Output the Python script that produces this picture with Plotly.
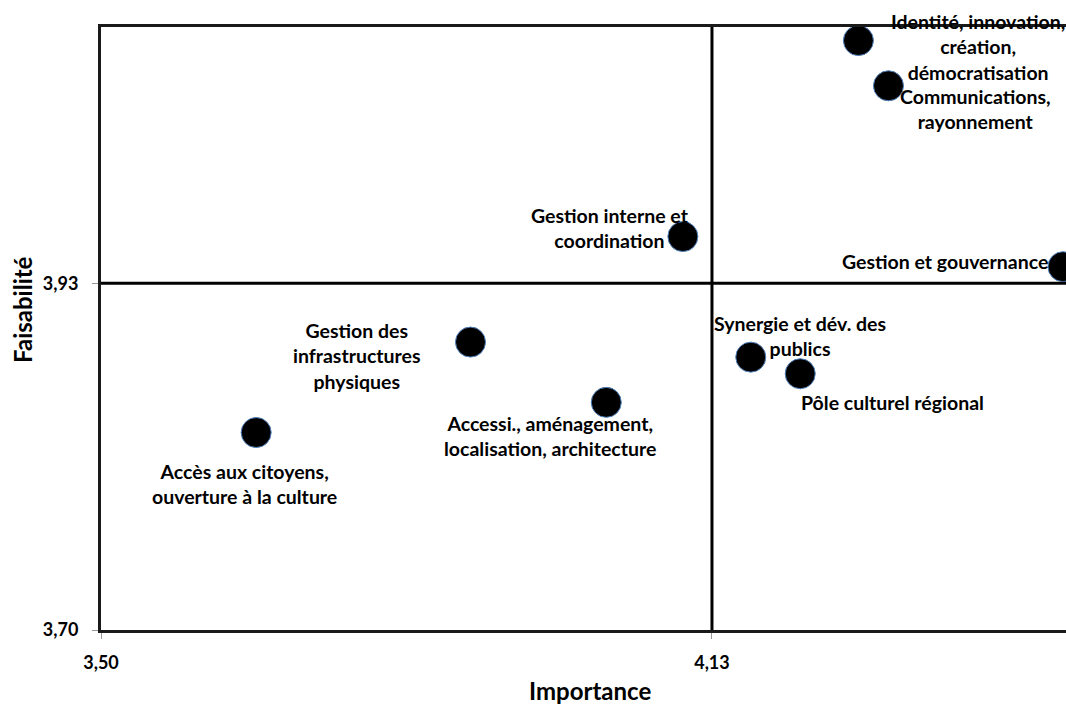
import plotly.graph_objects as go

# Axes: importance (x) vs faisabilité (y), with the quadrant split at the averages
labels = [
    "Identité, innovation,<br>création,<br>démocratisation",
    "Communications,<br>rayonnement",
    "Gestion interne et<br>coordination",
    "Gestion et gouvernance",
    "Gestion des<br>infrastructures<br>physiques",
    "Synergie et dév. des<br>publics",
    "Pôle culturel régional",
    "Accessi., aménagement,<br>localisation, architecture",
    "Accès aux citoyens,<br>ouverture à la culture",
]
importance = [4.281, 4.312, 4.100, 4.492, 3.881, 4.170, 4.221, 4.021, 3.660]
faisabilite = [4.091, 4.061, 3.961, 3.941, 3.891, 3.881, 3.870, 3.851, 3.831]

x_split = 4.13
y_split = 3.93
x_ticks = [3.50, 4.13]
y_ticks = [3.70, 3.93]

# Label offsets in pixels relative to each point (dx, dy up)
label_shift = [(120, -6), (87, -23), (-73, 9), (-118, 5), (-113, -14),
               (49, 21), (92, -29), (-56, -34), (-12, -51)]

FONT = "Lato"

fig = go.Figure()
fig.add_trace(go.Scatter(
    x=importance, y=faisabilite, mode="markers",
    marker=dict(size=30, color="black", line=dict(color="#4f81bd", width=1)),
    cliponaxis=True, hoverinfo="skip", showlegend=False,
))

for lab, xv, yv, (dx, dy) in zip(labels, importance, faisabilite, label_shift):
    fig.add_annotation(
        x=xv, y=yv, text=lab, showarrow=False, xshift=dx, yshift=dy,
        xanchor="center", yanchor="middle", align="center",
        font=dict(family=FONT, size=19.5, color="black", weight="bold"),
    )

# Quadrant lines
fig.add_shape(type="line", x0=x_split, x1=x_split, y0=0, y1=1, yref="paper",
              line=dict(color="black", width=3))
fig.add_shape(type="line", x0=0, x1=1, xref="paper", y0=y_split, y1=y_split,
              line=dict(color="black", width=3))

# Axis titles
fig.add_annotation(text="Importance", x=(590 - 101) / 965, y=-(690 - 630) / 603,
                   xref="paper", yref="paper", showarrow=False,
                   xanchor="center", yanchor="middle",
                   font=dict(family=FONT, size=24, color="black", weight="bold"))
fig.add_annotation(text="Faisabilité", x=-(101 - 22) / 965, y=(630 - 310) / 603,
                   xref="paper", yref="paper", showarrow=False, textangle=-90,
                   xanchor="center", yanchor="middle",
                   font=dict(family=FONT, size=24, color="black", weight="bold"))

tick_font = dict(family=FONT, size=18, color="black", weight="bold")

fig.update_layout(
    width=1066, height=705,
    margin=dict(l=101, r=0, t=27, b=75),
    paper_bgcolor="white", plot_bgcolor="white",
    separators=", ",
    xaxis=dict(range=[3.50, 3.50 + 965 / 969.8], tickvals=x_ticks, tickformat=".2f",
               showgrid=False, zeroline=False, showline=True, mirror=True,
               linecolor="#1a1a1a", linewidth=3, ticks="outside", ticklen=6,
               tickcolor="#999999", tickwidth=1, ticklabelstandoff=8,
               tickfont=tick_font),
    yaxis=dict(range=[3.70, 4.10], tickvals=y_ticks, tickformat=".2f",
               showgrid=False, zeroline=False, showline=True,
               linecolor="#1a1a1a", linewidth=3, ticks="outside", ticklen=6,
               tickcolor="#999999", tickwidth=1, ticklabelstandoff=10,
               tickfont=tick_font),
)

fig.write_html("out.html")
